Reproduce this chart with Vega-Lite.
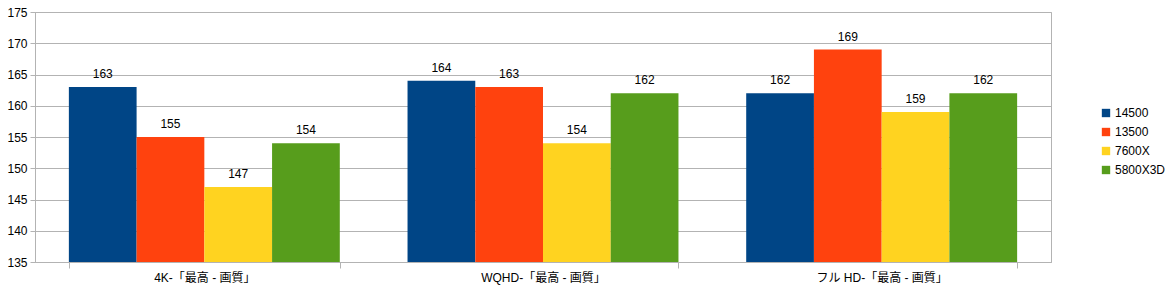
{
  "$schema": "https://vega.github.io/schema/vega-lite/v6.json",
  "width": 1016,
  "height": 250,
  "autosize": "none",
  "padding": {"left": 35, "top": 12, "right": 115, "bottom": 29},
  "background": "white",
  "config": {
    "view": {"stroke": "#b3b3b3"},
    "font": "Liberation Sans, Noto Sans CJK JP",
    "axis": {"labelFont": "Liberation Sans, Noto Sans CJK JP", "labelColor": "#000000", "labelFontSize": 12, "domainColor": "#b3b3b3", "tickColor": "#b3b3b3", "gridColor": "#b3b3b3"}
  },
  "data": {
    "values": [
      {"cat": "4K-「最高 - 画質」", "cpu": "14500", "v": 163},
      {"cat": "4K-「最高 - 画質」", "cpu": "13500", "v": 155},
      {"cat": "4K-「最高 - 画質」", "cpu": "7600X", "v": 147},
      {"cat": "4K-「最高 - 画質」", "cpu": "5800X3D", "v": 154},
      {"cat": "WQHD-「最高 - 画質」", "cpu": "14500", "v": 164},
      {"cat": "WQHD-「最高 - 画質」", "cpu": "13500", "v": 163},
      {"cat": "WQHD-「最高 - 画質」", "cpu": "7600X", "v": 154},
      {"cat": "WQHD-「最高 - 画質」", "cpu": "5800X3D", "v": 162},
      {"cat": "フル HD-「最高 - 画質」", "cpu": "14500", "v": 162},
      {"cat": "フル HD-「最高 - 画質」", "cpu": "13500", "v": 169},
      {"cat": "フル HD-「最高 - 画質」", "cpu": "7600X", "v": 159},
      {"cat": "フル HD-「最高 - 画質」", "cpu": "5800X3D", "v": 162}
    ]
  },
  "encoding": {
    "x": {
      "field": "cat", "type": "nominal", "sort": null, "title": null,
      "scale": {"paddingInner": 0.2, "paddingOuter": 0.1},
      "axis": {"labelAngle": 0, "tickBand": "extent", "tickSize": 6, "labelPadding": 4, "domainColor": "#b3b3b3"}
    },
    "xOffset": {"field": "cpu", "type": "nominal", "sort": ["14500", "13500", "7600X", "5800X3D"], "scale": {"paddingInner": 0, "paddingOuter": 0}},
    "y": {
      "field": "v", "type": "quantitative", "title": null,
      "scale": {"domain": [135, 175], "zero": false, "nice": false},
      "axis": {"values": [135, 140, 145, 150, 155, 160, 165, 170, 175], "tickSize": 5, "labelPadding": 3, "grid": true, "labelFontSize": 12}
    }
  },
  "layer": [
    {
      "mark": {"type": "bar"},
      "encoding": {
        "y2": {"datum": 135},
        "color": {
          "field": "cpu", "type": "nominal", "sort": ["14500", "13500", "7600X", "5800X3D"],
          "scale": {"domain": ["14500", "13500", "7600X", "5800X3D"], "range": ["#004586", "#ff420e", "#ffd320", "#579d1c"]},
          "legend": {"title": null, "orient": "none", "legendX": 1065, "legendY": 95, "symbolType": "square", "symbolSize": 70, "symbolStrokeWidth": 0, "labelFontSize": 12, "labelFont": "Liberation Sans", "labelColor": "#000000", "labelOffset": 3, "rowPadding": 7}
        }
      }
    },
    {
      "mark": {"type": "text", "baseline": "bottom", "dy": -6, "fontSize": 12, "font": "Liberation Sans", "color": "#000000"},
      "encoding": {"text": {"field": "v", "type": "quantitative"}}
    }
  ]
}
